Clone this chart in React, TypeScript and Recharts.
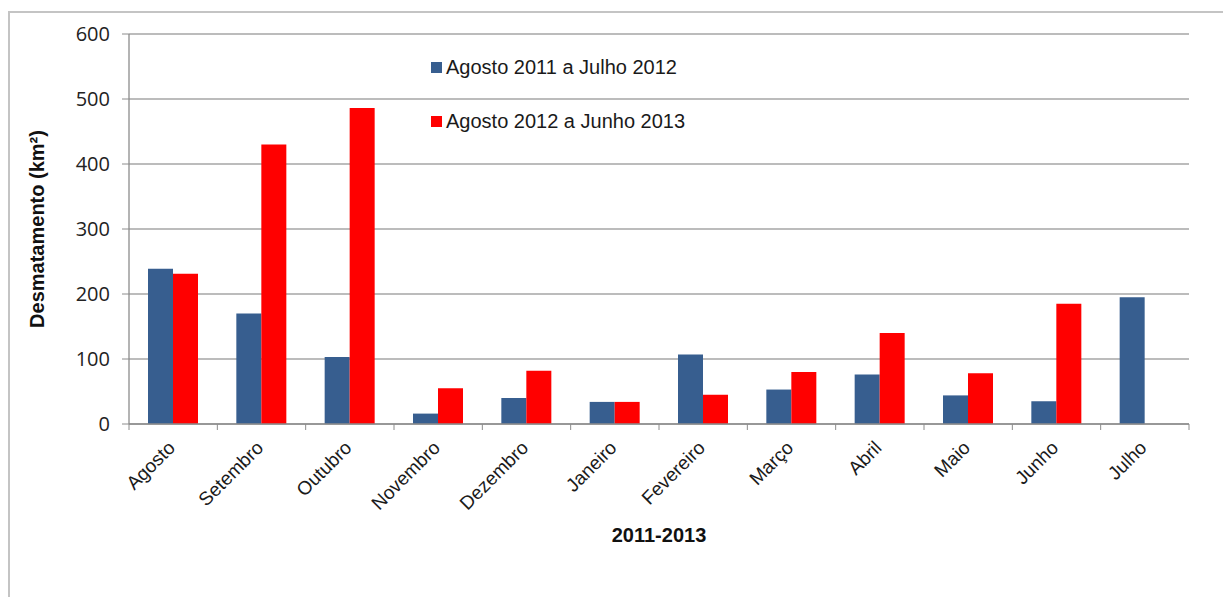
import React from 'react';
import { BarChart, Bar, XAxis, YAxis, CartesianGrid, Legend, Label } from 'recharts';

const months = ['Agosto', 'Setembro', 'Outubro', 'Novembro', 'Dezembro', 'Janeiro', 'Fevereiro', 'Março', 'Abril', 'Maio', 'Junho', 'Julho'];
const serie2011 = [239, 170, 103, 16, 40, 34, 107, 53, 76, 44, 35, 195];
const serie2012: (number | null)[] = [231, 430, 486, 55, 82, 34, 45, 80, 140, 78, 185, null];
const yTicks = [0, 100, 200, 300, 400, 500, 600];
const seriesNames = ['Agosto 2011 a Julho 2012', 'Agosto 2012 a Junho 2013'];
const colors = ['#375E8F', '#FF0000'];

const data = months.map((m, i) => ({ month: m, a: serie2011[i], b: serie2012[i] }));

const AXIS = '#8c8c8c';

const XTick = (props: any) => {
  const { x, y, payload, index } = props;
  const off = payload.offset || 0;
  const tx = x + 3;
  const ty = y + 25;
  return (
    <g>
      <line x1={x - off} y1={y} x2={x - off} y2={y + 6} stroke={AXIS} strokeWidth={1} />
      {index === months.length - 1 && (
        <line x1={x + off} y1={y} x2={x + off} y2={y + 6} stroke={AXIS} strokeWidth={1} />
      )}
      <text
        x={tx}
        y={ty}
        transform={`rotate(-45, ${tx}, ${ty})`}
        textAnchor="end"
        fontFamily="'Liberation Sans', Arial, sans-serif"
        fontSize={19}
        fill="#1a1a1a"
      >
        {payload.value}
      </text>
    </g>
  );
};

const LegendContent = () => (
  <div style={{ position: 'relative', width: 300, height: 80, fontFamily: "'Liberation Sans', Arial, sans-serif", fontSize: 20, color: '#1a1a1a' }}>
    {seriesNames.map((n, i) => (
      <div key={n} style={{ position: 'absolute', left: 0, top: i * 54, height: 22, display: 'flex', alignItems: 'center', whiteSpace: 'nowrap' }}>
        <span style={{ display: 'inline-block', width: 11, height: 11, background: colors[i], marginRight: 4 }} />
        <span>{n}</span>
      </div>
    ))}
  </div>
);

export default function App() {
  return (
    <div style={{ position: 'absolute', left: 0, top: 0, width: 1223, height: 597, overflow: 'hidden', background: '#fff' }}>
      <div style={{ position: 'absolute', left: 8, top: 11, width: 1400, height: 800, borderLeft: '2px solid #c4c4c4', borderTop: '2px solid #c4c4c4' }} />
      <div style={{ position: 'absolute', left: 0, top: 0 }}>
        <BarChart
          width={1223}
          height={597}
          data={data}
          margin={{ top: 34, right: 34, left: 0, bottom: 0 }}
          barGap={0}
          barSize={25}
        >
          <CartesianGrid vertical={false} stroke="#a6a6a6" strokeWidth={1.3} />
          <XAxis
            dataKey="month"
            height={173}
            interval={0}
            tickLine={false}
            tickSize={0}
            tickMargin={0}
            axisLine={{ stroke: AXIS, strokeWidth: 1.3 }}
            tick={<XTick />}
          >
            <Label
              value="2011-2013"
              position="insideBottom"
              offset={55}
              style={{ fontFamily: "'Liberation Sans', Arial, sans-serif", fontSize: 20, fontWeight: 'bold', fill: '#111' }}
            />
          </XAxis>
          <YAxis
            width={129}
            domain={[0, 600]}
            ticks={yTicks}
            tickSize={7}
            tickMargin={12}
            tickLine={{ stroke: AXIS }}
            axisLine={{ stroke: AXIS, strokeWidth: 1.3 }}
            tick={{ fontFamily: "'Open Sans', sans-serif", fontSize: 20, fill: '#222' }}
          >
            <Label
              value="Desmatamento (km²)"
              angle={-90}
              position="center"
              dx={-28}
              style={{ fontFamily: "'Liberation Sans', Arial, sans-serif", fontSize: 20, fontWeight: 'bold', fill: '#111', textAnchor: 'middle' }}
            />
          </YAxis>
          <Legend
            layout="vertical"
            verticalAlign="middle"
            align="center"
            wrapperStyle={{ position: 'absolute', left: 431, top: 56, width: 320, height: 80 }}
            content={<LegendContent />}
          />
          <Bar dataKey="a" name={seriesNames[0]} fill={colors[0]} isAnimationActive={false} />
          <Bar dataKey="b" name={seriesNames[1]} fill={colors[1]} isAnimationActive={false} />
        </BarChart>
      </div>
    </div>
  );
}
